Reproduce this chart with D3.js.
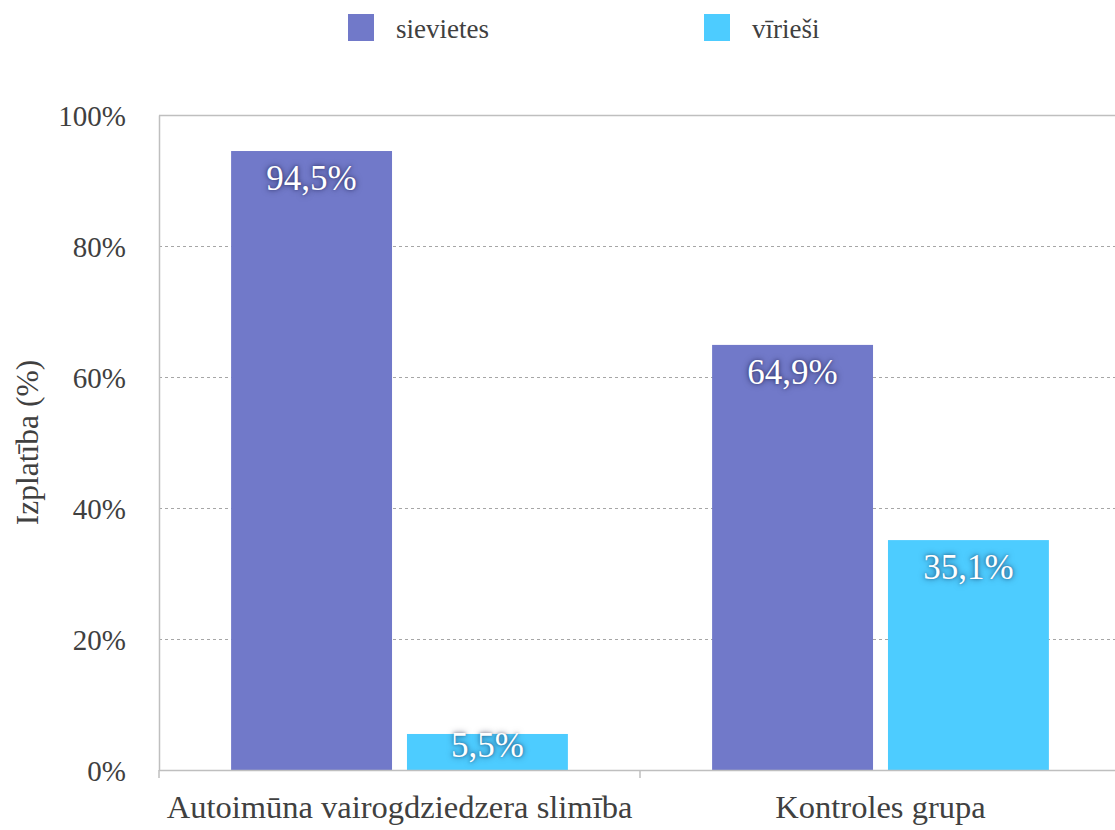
<!DOCTYPE html>
<html>
<head>
<meta charset="utf-8">
<script src="https://cdn.jsdelivr.net/npm/d3@7"></script>
<style>
  html, body { margin: 0; padding: 0; background: #fff; }
  svg, svg text { font-family: "Liberation Serif", "Times New Roman", Times, serif !important; }
</style>
</head>
<body>
<svg id="chart" width="1115" height="830"></svg>
<script>
// Prevalence by sex in two study groups
const categories = ["Autoimūna vairogdziedzera slimība", "Kontroles grupa"];
const seriesNames = ["sievietes", "vīrieši"];
const sievietes = [94.5, 64.9];
const virieši = [5.5, 35.1];
const yTicks = [0, 20, 40, 60, 80, 100];
const colors = ["#7179C9", "#4DCCFF"];

const series = [sievietes, virieši];
const fmt = v => v.toFixed(1).replace(".", ",") + "%";
const FONT = "Liberation Serif, Times New Roman, serif";

const svg = d3.select("#chart").attr("font-family", FONT);
const x0 = 159, x1 = 1121, yTop = 115, yBot = 770;

const x = d3.scaleBand().domain(categories).range([x0, x1]);
const xs = d3.scaleBand().domain(seriesNames).range([0, x.bandwidth()])
  .paddingInner(0.085).paddingOuter(0.41);
const y = d3.scaleLinear().domain([0, 100]).range([yBot, yTop]);

// gridlines
svg.append("g").selectAll("line").data(yTicks.filter(t => t > 0 && t < 100)).join("line")
  .attr("x1", x0).attr("x2", x1)
  .attr("y1", d => y(d) + 0.5).attr("y2", d => y(d) + 0.5)
  .attr("stroke", "#a6a6a6").attr("stroke-width", 1).attr("stroke-dasharray", "3,3");

// plot frame top
svg.append("line").attr("x1", x0).attr("x2", x1).attr("y1", yTop + 0.5).attr("y2", yTop + 0.5)
  .attr("stroke", "#bfbfbf").attr("stroke-width", 1.5);

// bars
const rows = (c, i) => seriesNames.map((s, j) => ({ s, v: series[j][i], j }));
const groups = svg.append("g").selectAll("g").data(categories).join("g")
  .attr("transform", d => `translate(${x(d)},0)`);
groups.selectAll("rect").data(rows).join("rect")
  .attr("x", d => xs(d.s)).attr("width", xs.bandwidth())
  .attr("y", d => y(d.v)).attr("height", d => y(0) - y(d.v))
  .attr("fill", d => colors[d.j]);

// value labels
groups.selectAll("text.val").data(rows).join("text").attr("class", "val")
  .attr("x", d => xs(d.s) + xs.bandwidth() / 2)
  .attr("y", d => Math.min(y(d.v) + 39, yBot - 13))
  .attr("text-anchor", "middle")
  .attr("fill", "#fff")
  .style("font-size", "35px")
  .style("text-shadow", "0 0 6px rgba(0,0,40,0.55), 0 0 3px rgba(0,0,40,0.35)")
  .text(d => fmt(d.v));

// y axis
const yAxis = d3.axisLeft(y).tickValues(yTicks).tickSize(0).tickPadding(33).tickFormat(d => d + "%");
const gy = svg.append("g").attr("transform", `translate(${x0},0)`).call(yAxis).attr("font-family", FONT);
gy.select(".domain").attr("stroke", "#bfbfbf").attr("stroke-width", 1.5);
gy.selectAll("text").style("font-size", "29px").attr("fill", "#404040").attr("dy", "0.35em");

// x axis
const xAxis = d3.axisBottom(x).tickSize(0).tickPadding(25);
const gx = svg.append("g").attr("transform", `translate(0,${yBot})`).call(xAxis).attr("font-family", FONT);
gx.select(".domain").attr("stroke", "#bfbfbf").attr("stroke-width", 1.5).attr("d", `M${x0},0.5H${x1}`);
gx.selectAll("text").style("font-size", "32.5px").attr("fill", "#404040");
// category separator ticks
gx.append("g").selectAll("line").data([x0, x(categories[1])]).join("line")
  .attr("x1", d => d).attr("x2", d => d).attr("y1", 0).attr("y2", 8)
  .attr("stroke", "#bfbfbf").attr("stroke-width", 1.5);

// y title
svg.append("text")
  .attr("transform", `translate(38,${(yTop + yBot) / 2}) rotate(-90)`)
  .attr("text-anchor", "middle")
  .attr("fill", "#404040")
  .style("font-size", "31.5px")
  .text("Izplatība (%)");

// legend
const legendX = [348, 704];
const lg = svg.append("g").selectAll("g").data(seriesNames).join("g")
  .attr("transform", (d, i) => `translate(${legendX[i]},14)`);
lg.append("rect").attr("width", 26).attr("height", 27).attr("fill", (d, i) => colors[i]);
lg.append("text").attr("x", 48).attr("y", 24).attr("fill", "#404040")
  .style("font-size", "27px").text(d => d);
</script>
</body>
</html>
